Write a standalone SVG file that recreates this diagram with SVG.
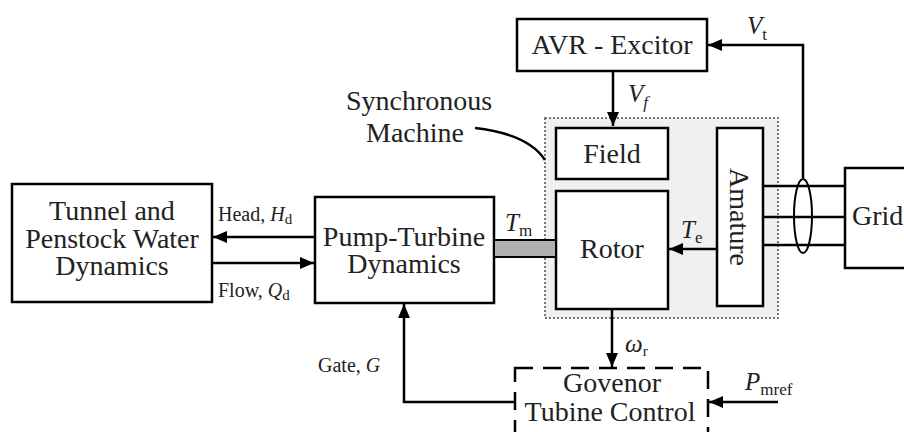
<svg xmlns="http://www.w3.org/2000/svg" width="904" height="432" viewBox="0 0 904 432">
<style>
.box{fill:#fff;stroke:#000;stroke-width:2.5}
text{font-family:'Liberation Serif','DejaVu Serif','Times New Roman',serif}
.t{font-size:28px;fill:#222;text-anchor:middle}
.s{font-size:20px;fill:#222}
.i{font-style:italic}
.ln{fill:none;stroke:#000;stroke-width:2.5}
</style>
<defs>
<marker id="ah" markerUnits="userSpaceOnUse" markerWidth="16" markerHeight="12" refX="14" refY="6" orient="auto">
<path d="M0,0 L14,6 L0,12 Z" fill="#000"/>
</marker>
</defs>
<rect width="904" height="432" fill="#fff"/>

<g id="sync-machine">
<rect x="545" y="118" width="233" height="200" fill="#f0f0f0" stroke="#777" stroke-width="2" stroke-dasharray="2 2"/>
<text class="t" x="419" y="110">Synchronous</text>
<text class="t" x="415" y="142">Machine</text>
<path d="M475,128 Q528,134 545,160" class="ln" stroke-width="1.5"/>
</g>

<g id="avr">
<rect class="box" x="517" y="19" width="190" height="52"/>
<text class="t" x="612" y="54">AVR - Excitor</text>
</g>

<g id="field">
<rect class="box" x="556" y="128" width="112" height="51"/>
<text class="t" x="612" y="163">Field</text>
</g>

<g id="rotor">
<rect class="box" x="556" y="191" width="112" height="118"/>
<text class="t" x="612" y="258">Rotor</text>
</g>

<g id="amature">
<rect class="box" x="717" y="128" width="46" height="178"/>
<text class="t" transform="translate(730,217) rotate(90)">Amature</text>
</g>

<g id="grid">
<rect class="box" x="845" y="168" width="70" height="100"/>
<text class="t" x="852" y="225" style="text-anchor:start">Grid</text>
</g>

<g id="tunnel">
<rect class="box" x="12" y="184" width="200" height="118"/>
<text class="t" x="112" y="220">Tunnel and</text>
<text class="t" x="112" y="248">Penstock Water</text>
<text class="t" x="112" y="275">Dynamics</text>
</g>

<g id="pump">
<rect class="box" x="315" y="197" width="179" height="106"/>
<text class="t" x="404" y="246">Pump-Turbine</text>
<text class="t" x="404" y="273">Dynamics</text>
</g>

<g id="governor">
<rect x="515" y="368" width="193" height="80" fill="#fff" stroke="#000" stroke-width="2.5" stroke-dasharray="18 10"/>
<text class="t" x="612" y="392">Govenor</text>
<text class="t" x="610" y="421">Tubine Control</text>
</g>

<g id="connectors">
<path class="ln" d="M613,71 V126" marker-end="url(#ah)"/>
<path class="ln" d="M803,178 V45 H708" marker-end="url(#ah)"/>
<path class="ln" d="M763,186 H845 M763,217 H845 M763,245 H845"/>
<ellipse cx="803" cy="216" rx="9" ry="37" fill="none" stroke="#000" stroke-width="2"/>
<path class="ln" d="M717,249 H669" marker-end="url(#ah)"/>
<rect x="494" y="240" width="62" height="17" fill="#b0b0b0" stroke="#000" stroke-width="2"/>
<path class="ln" d="M315,237 H213" marker-end="url(#ah)"/>
<path class="ln" d="M212,263 H314" marker-end="url(#ah)"/>
<path class="ln" d="M612,309 V367" marker-end="url(#ah)"/>
<path class="ln" d="M515,402 H404 V304" marker-end="url(#ah)"/>
<path class="ln" d="M778,402 H709" marker-end="url(#ah)"/>
</g>

<g id="labels">
<text class="s" x="747" y="34"><tspan class="i" font-size="25">V</tspan><tspan font-size="17" dy="6">t</tspan></text>
<text class="s" x="628" y="102"><tspan class="i" font-size="25">V</tspan><tspan class="i" font-size="17" dy="6">f</tspan></text>
<text class="s" x="505" y="231"><tspan class="i" font-size="25">T</tspan><tspan font-size="17" dy="5">m</tspan></text>
<text class="s" x="681" y="238"><tspan class="i" font-size="25">T</tspan><tspan font-size="17" dy="5">e</tspan></text>
<text class="s" x="218" y="221">Head, <tspan class="i">H</tspan><tspan font-size="15" dy="3">d</tspan></text>
<text class="s" x="218" y="297">Flow, <tspan class="i">Q</tspan><tspan font-size="15" dy="3">d</tspan></text>
<text class="s" x="318" y="372">Gate, <tspan class="i">G</tspan></text>
<text class="s" x="625" y="352"><tspan class="i" font-size="25">ω</tspan><tspan font-size="15" dy="4">r</tspan></text>
<text class="s" x="745" y="390"><tspan class="i" font-size="25">P</tspan><tspan font-size="17" dy="5">mref</tspan></text>
</g>
</svg>
